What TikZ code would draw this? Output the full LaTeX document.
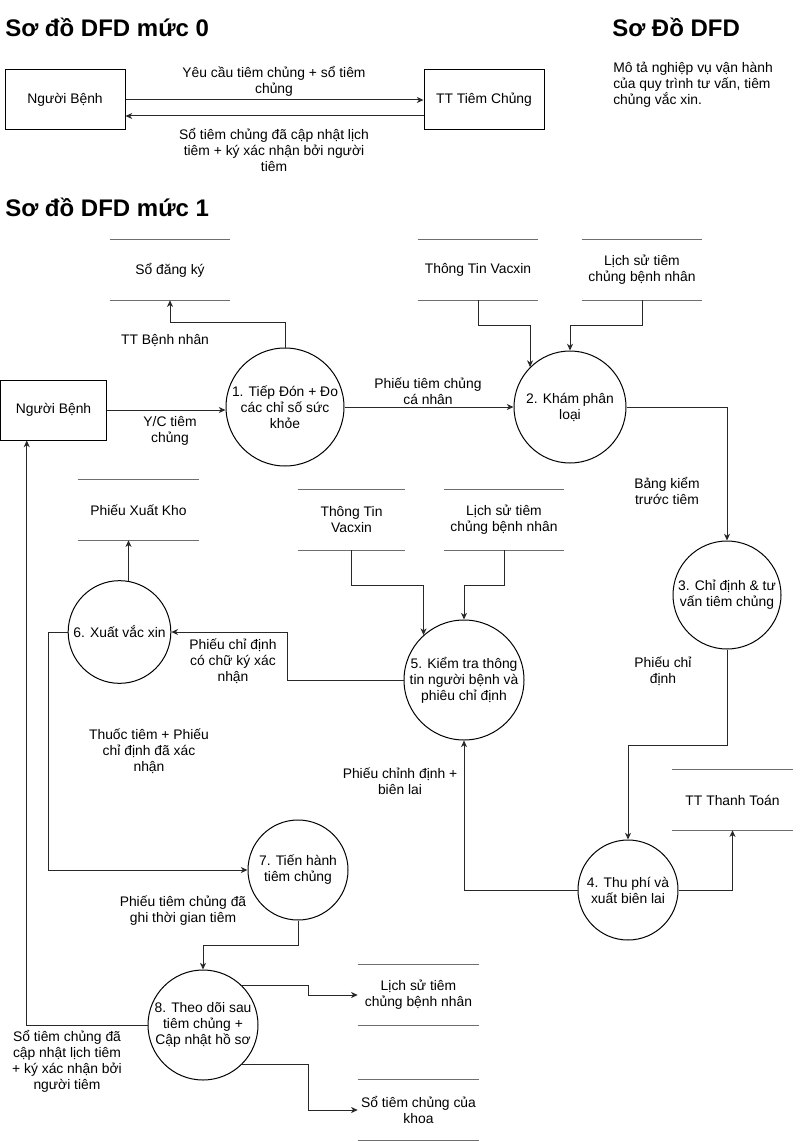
\documentclass[tikz,border=0pt]{standalone}
\usepackage{fontspec}
\setmainfont{Liberation Sans}
\usetikzlibrary{arrows.meta,calc}
\definecolor{storegray}{RGB}{110,110,110}
\definecolor{linecol}{RGB}{40,40,40}
\begin{document}
\begin{tikzpicture}[x=0.75pt,y=-0.75pt,
  every node/.style={font=\fontsize{10.4}{12}\selectfont, align=center, inner sep=0pt},
  title/.style={font=\fontsize{18}{21}\selectfont\bfseries, anchor=base west},
  entity/.style={draw=black, line width=0.75pt, minimum height=45pt},
  proc/.style={circle, draw=black, line width=0.75pt, inner sep=-5pt},
  store/.style={minimum height=45pt},
  storeline/.style={draw=storegray, line width=1.1pt},
  arr/.style={draw=linecol, line width=0.75pt, -{Stealth[length=5pt,width=4.5pt,inset=1.5pt]}}
]
\useasboundingbox[fill=white] (0,0) rectangle (799,1141);

% ---------- Level 0 ----------
\node[title] (t0) at (5,37) {Sơ đồ DFD mức 0};
\node[title] (t2) at (612,37) {Sơ Đồ DFD};
\node[anchor=north west, align=left] (desc) at (613,62) {Mô tả nghiệp vụ vận hành\\của quy trình tư vấn, tiêm\\chủng vắc xin.};

\node[entity, minimum width=90pt] (nb0) at (65,100) {Người Bệnh};
\node[entity, minimum width=90pt] (tt0) at (484,100) {TT Tiêm Chủng};
\draw[arr] (nb0.east) -- (tt0.west);
\draw[arr] (tt0.west |- 0,116) -- (nb0.east |- 0,116);
\node (l01) at (274,81) {Yêu cầu tiêm chủng + sổ tiêm\\chủng};
\node (l02) at (274,150) {Sổ tiêm chủng đã cập nhật lịch\\tiêm + ký xác nhận bởi người\\tiêm};

% ---------- Level 1 ----------
\node[title] (t1) at (5,217) {Sơ đồ DFD mức 1};

\node[entity, minimum width=79.5pt] (nb1) at (53.5,410) {Người Bệnh};

\node[proc, minimum size=88.5pt] (c1) at (285,407) {1. Tiếp Đón + Đo\\các chỉ số sức\\khỏe};
\node[proc, minimum size=84pt] (c2) at (570,407) {2. Khám phân\\loại};
\node[proc, minimum size=81pt] (c3) at (727,595) {3. Chỉ định \& tư\\vấn tiêm chủng};
\node[proc, minimum size=75pt] (c4) at (628,890) {4. Thu phí và\\xuất biên lai};
\node[proc, minimum size=90pt] (c5) at (464,680) {5. Kiểm tra thông\\tin người bệnh và\\phiêu chỉ định};
\node[proc, minimum size=77pt] (c6) at (119.5,632) {6. Xuất vắc xin};
\node[proc, minimum size=75pt] (c7) at (298,870) {7. Tiến hành\\tiêm chủng};
\node[proc, minimum size=82.5pt] (c8) at (203,1025) {8. Theo dõi sau\\tiêm chủng +\\Cập nhật hồ sơ};

\node[store, minimum width=90pt] (sdk) at (170,270) {Sổ đăng ký};
\node[store, minimum width=90pt] (stv1) at (478,270) {Thông Tin Vacxin};
\node[store, minimum width=90pt] (sls1) at (642,270) {Lịch sử tiêm\\chủng bệnh nhân};
\node[store, minimum width=80pt] (stv2) at (351.5,520) {Thông Tin\\Vacxin};
\node[store, minimum width=90pt] (sls2) at (504,520) {Lịch sử tiêm\\chủng bệnh nhân};
\node[store, minimum width=90.75pt] (stt) at (732.5,800) {TT Thanh Toán};
\node[store, minimum width=90.75pt] (spx) at (138.5,510) {Phiếu Xuất Kho};
\node[store, minimum width=90.75pt] (sls3) at (418.5,995) {Lịch sử tiêm\\chủng bệnh nhân};
\node[store, minimum width=90.75pt] (ssk) at (418.5,1110) {Sổ tiêm chủng của\\khoa};
\foreach \s in {sdk,stv1,sls1,stv2,sls2,stt,spx,sls3,ssk}{
  \draw[storeline] (\s.north west) -- (\s.north east) (\s.south west) -- (\s.south east);
}

% connectors
\draw[arr] (nb1.east) -- (c1.west |- nb1.east);
\node (lyc) at (170,431) {Y/C tiêm\\chủng};

\draw[arr] (c1.north) -- ++(0,-25) -| (sdk.south);
\node (ltt) at (165,341) {TT Bệnh nhân};

\draw[arr] (c1.east) -- (c2.west);
\node (lptc) at (428,391) {Phiếu tiêm chủng\\cá nhân};

\draw[arr] (stv1.south) -- ++(0,25) -| (c2.north west);
\draw[arr] (sls1.south) -- ++(0,25) -| (c2.north);

\draw[arr] (c2.east) -| (c3.north);
\node (lbk) at (667,491) {Bảng kiểm\\trước tiêm};

\draw[arr] (c3.south) -- (c3.south |- 0,745) -| (c4.north);
\node (lpcd) at (663,671) {Phiếu chỉ\\định};

\draw[arr] (c4.east) -| (stt.south);
\draw[arr] (c4.west) -| (c5.south);
\node (lpbl) at (400,781) {Phiếu chỉnh định +\\biên lai};

\draw[arr] (stv2.south) -- ++(0,35) -| (c5.132);
\draw[arr] (sls2.south) -- ++(0,35) -| (c5.north);

\draw[arr] (c5.west) -- ++(-116,0) |- (c6.east);
\node (lpck) at (233,661) {Phiếu chỉ định\\có chữ ký xác\\nhận};

\draw[arr] (c6.80) -- (c6.80 |- spx.south);

\draw[arr] (c6.west) -- ++(-19,0) |- (c7.west);
\node (ltt2) at (149,751) {Thuốc tiêm + Phiếu\\chỉ định đã xác\\nhận};

\draw[arr] (c7.south) -- ++(0,25) -| (c8.north);
\node (lptg) at (183,911) {Phiếu tiêm chủng đã\\ghi thời gian tiêm};

\draw[arr] (c8.west) -| ($(nb1.south west)!0.25!(nb1.south east)$);
\node (lstc) at (67,1061) {Sổ tiêm chủng đã\\cập nhật lịch tiêm\\+ ký xác nhận bởi\\người tiêm};

\draw[arr] (c8.45) -| ($(sls3.west)+(-49,0)$) -- (sls3.west);
\draw[arr] (c8.-45) -| ($(ssk.west)+(-49,0)$) -- (ssk.west);

\end{tikzpicture}
\end{document}
